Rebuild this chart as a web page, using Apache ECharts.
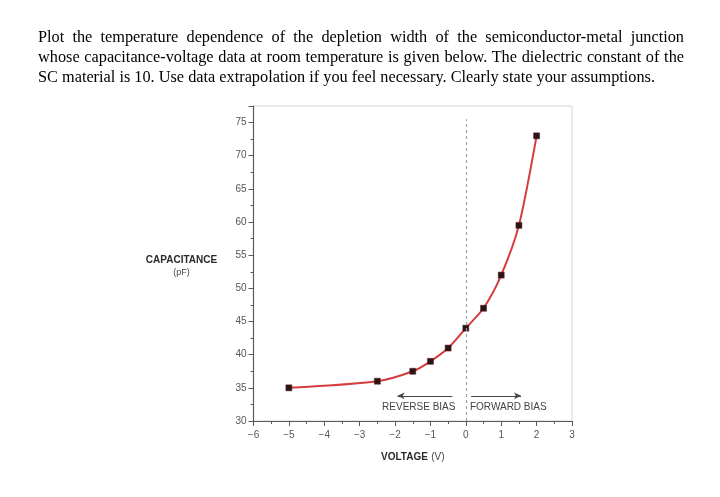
<!DOCTYPE html>
<html>
<head>
<meta charset="utf-8">
<script src="https://cdn.jsdelivr.net/npm/echarts@6/dist/echarts.min.js"></script>
<style>
  html, body { margin: 0; padding: 0; background: #fff; }
  #wrap { position: relative; width: 720px; height: 497px; }
  #chart { position: absolute; left: 0; top: 0; width: 720px; height: 497px; }
  #question {
    position: absolute; left: 38px; top: 27px; width: 646px;
    font-family: "Liberation Serif", "DejaVu Serif", serif;
    font-size: 16.3px; line-height: 20px; color: #000; z-index: 2;
  }
  #question span { display: block; text-align: justify; text-align-last: justify; white-space: nowrap; }
  #question span.last { text-align-last: left; }
</style>
</head>
<body>
<div id="wrap">
  <div id="chart"></div>
  <div id="question">
    <span>Plot the temperature dependence of the depletion width of the semiconductor-metal junction</span>
    <span>whose capacitance-voltage data at room temperature is given below. The dielectric constant of the</span>
    <span class="last">SC material is 10. Use data extrapolation if you feel necessary. Clearly state your assumptions.</span>
  </div>
</div>
<script>
// C-V data
const voltage = [-5, -2.5, -1.5, -1, -0.5, 0, 0.5, 1, 1.5, 2]
const capacitance = [35, 36, 37.5, 39, 41, 44, 47, 52, 59.5, 73]

const xTicks = [-6, -5, -4, -3, -2, -1, 0, 1, 2, 3]
const yTicks = [30, 35, 40, 45, 50, 55, 60, 65, 70, 75]

const biasLabels = [
  { name: 'REVERSE BIAS', x: -1.33, y: 32.0 },
  { name: 'FORWARD BIAS', x: 1.2, y: 32.0 },
]
const reverseArrow = [-0.38, -1.93]
const forwardArrow = [0.15, 1.56]
const arrowY = 33.8

const axisGray = '#5a5a5a'
const labelFont = 'Liberation Sans, Arial, sans-serif'

const chart = echarts.init(document.getElementById('chart'))

chart.setOption({
  animation: false,
  grid: {
    left: 253.5, right: 148, top: 106, bottom: 76,
    show: true, borderColor: '#d4d4d4', borderWidth: 1,
  },
  xAxis: {
    type: 'value',
    min: xTicks[0], max: xTicks[xTicks.length - 1], interval: 1,
    name: '{b|VOLTAGE} {n|(V)}',
    nameLocation: 'middle', nameGap: 30,
    nameTextStyle: {
      rich: {
        b: { fontFamily: labelFont, fontSize: 10, fontWeight: 'bold', color: '#2a2a2a' },
        n: { fontFamily: labelFont, fontSize: 10, color: '#444' },
      },
    },
    axisLine: { onZero: false, lineStyle: { color: axisGray, width: 1.2 } },
    axisTick: { length: 5, lineStyle: { color: axisGray } },
    minorTick: { show: true, splitNumber: 2, length: 3, lineStyle: { color: axisGray } },
    axisLabel: {
      margin: 9, color: '#555', fontFamily: labelFont, fontSize: 10,
      formatter: v => String(v).replace('-', '\u2212'),
    },
    splitLine: { show: false },
  },
  yAxis: {
    type: 'value',
    min: 30, max: 77.5, interval: 5,
    name: '{b|CAPACITANCE}\n{n|(pF)}',
    nameLocation: 'middle', nameRotate: 0, nameGap: 72,
    nameMoveOverlap: false,
    nameTextStyle: {
      align: 'center',
      padding: [6, 0, 0, 0],
      rich: {
        b: { fontFamily: labelFont, fontSize: 10, fontWeight: 'bold', color: '#2a2a2a', align: 'center', lineHeight: 12 },
        n: { fontFamily: labelFont, fontSize: 9, color: '#444', align: 'center', lineHeight: 12 },
      },
    },
    axisLine: { show: true, onZero: false, lineStyle: { color: axisGray, width: 1.2 } },
    axisTick: { show: true, length: 5, lineStyle: { color: axisGray } },
    minorTick: { show: true, splitNumber: 2, length: 3, lineStyle: { color: axisGray } },
    axisLabel: {
      margin: 7, color: '#555', fontFamily: labelFont, fontSize: 10,
      formatter: v => (yTicks.includes(v) ? String(v) : ''),
    },
    splitLine: { show: false },
  },
  series: [{
    type: 'line',
    data: voltage.map((v, i) => [v, capacitance[i]]),
    smooth: 0.25,
    lineStyle: { color: '#d63c3e', width: 2 },
    symbol: 'rect',
    symbolSize: 6,
    itemStyle: { color: '#2b1416', borderColor: '#5a1a1c', borderWidth: 0.5 },
    markLine: {
      silent: true,
      animation: false,
      label: { show: false },
      data: [
        [
          { coord: [0, 30], symbol: 'none', lineStyle: { color: '#9aa3ad', type: [3, 3], width: 1.2 } },
          { coord: [0, 75.5], symbol: 'none' },
        ],
        [
          { coord: [reverseArrow[0], arrowY], symbol: 'none', lineStyle: { color: '#444', type: 'solid', width: 1 } },
          { coord: [reverseArrow[1], arrowY], symbol: 'arrow', symbolSize: [5, 7] },
        ],
        [
          { coord: [forwardArrow[0], arrowY], symbol: 'none', lineStyle: { color: '#444', type: 'solid', width: 1 } },
          { coord: [forwardArrow[1], arrowY], symbol: 'arrow', symbolSize: [5, 7] },
        ],
      ],
    },
    markPoint: {
      silent: true,
      symbol: 'rect',
      symbolSize: 1,
      itemStyle: { color: 'rgba(0,0,0,0)' },
      label: {
        show: true, position: 'inside', formatter: '{b}',
        color: '#444', fontFamily: labelFont, fontSize: 10,
      },
      data: biasLabels.map(d => ({ name: d.name, coord: [d.x, d.y] })),
    },
    z: 3,
  }],
})
</script>
</body>
</html>
